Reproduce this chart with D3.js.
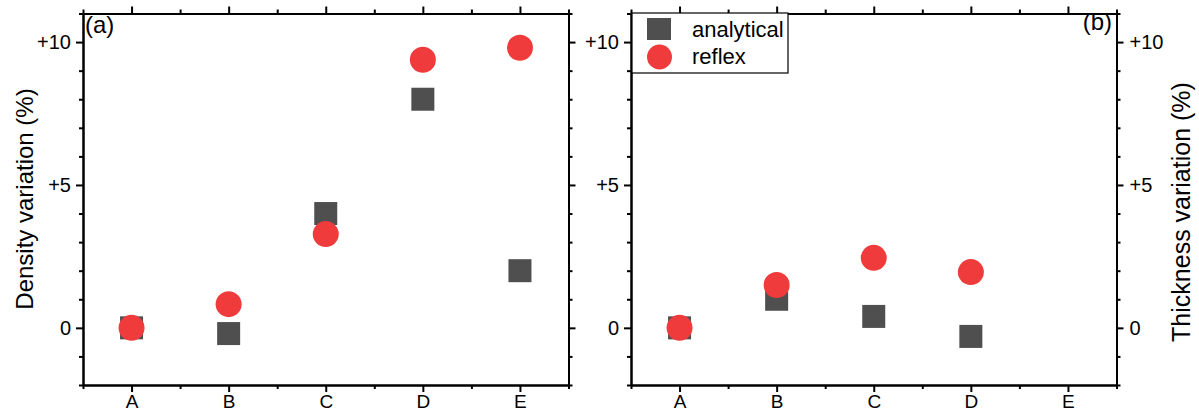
<!DOCTYPE html>
<html>
<head>
<meta charset="utf-8">
<script src="https://cdn.jsdelivr.net/npm/d3@7"></script>
<style>
  body { margin: 0; background: #fff; }
  svg { display: block; font-family: "Liberation Sans", Arial, sans-serif; }
  .domain { stroke: #000; stroke-width: 2; }
  .tick line { stroke: #000; stroke-width: 2; }
</style>
</head>
<body>
<div id="chart"></div>
<script>
var width = 1199;
var height = 412;

// data
var categories = ["A", "B", "C", "D", "E"];
var densityAnalytical = [0, -0.2, 4.0, 8.0, 2.0];
var densityReflex = [0, 0.83, 3.28, 9.38, 9.8];
var thicknessAnalytical = [0, 1.0, 0.4, -0.3];
var thicknessReflex = [0, 1.5, 2.45, 1.95];
var majorTicks = [0, 5, 10];
var seriesNames = ["analytical", "reflex"];

var sqColor = "#4f4f4f";
var dotColor = "#ef3b3b";

var svg = d3.select("#chart")
  .append("svg")
  .attr("width", width)
  .attr("height", height);

var yTop = 13.5, yBottom = 385;

var y = d3.scaleLinear()
  .domain([-2, 11])
  .range([yBottom, yTop]);

var minorY = d3.range(-2, 12).filter(function(v) { return majorTicks.indexOf(v) < 0; });
var minorX = [0.5, 1.5, 2.5, 3.5, 4.5, 5.5];

function fmt(v) { return v > 0 ? "+" + v : "" + v; }

// strip d3's default font attrs so the page font applies
function styleAxis(a, size) {
  a.attr("font-family", null).attr("font-size", null);
  a.selectAll("text").style("font-size", size + "px").attr("fill", "#000");
}

function panel(x0, x1, analytical, reflex, leftLabels, rightLabels) {
  var x = d3.scaleLinear()
    .domain([0.5, 5.5])
    .range([x0, x1]);

  var g = svg.append("g");

  // bottom + top axes
  g.append("g").attr("transform", "translate(0," + yBottom + ")")
    .call(d3.axisBottom(x).tickValues([1, 2, 3, 4, 5]).tickSize(7).tickSizeOuter(0).tickPadding(3)
      .tickFormat(function(d) { return categories[d - 1]; }))
    .call(styleAxis, 19);
  g.append("g").attr("transform", "translate(0," + yBottom + ")")
    .call(d3.axisBottom(x).tickValues(minorX).tickSize(4).tickSizeOuter(0).tickFormat(""));
  g.append("g").attr("transform", "translate(0," + yTop + ")")
    .call(d3.axisTop(x).tickValues([1, 2, 3, 4, 5]).tickSize(7).tickSizeOuter(0).tickFormat(""));
  g.append("g").attr("transform", "translate(0," + yTop + ")")
    .call(d3.axisTop(x).tickValues(minorX).tickSize(4).tickSizeOuter(0).tickFormat(""));

  // left + right axes
  g.append("g").attr("transform", "translate(" + x0 + ",0)")
    .call(d3.axisLeft(y).tickValues(majorTicks).tickSize(7).tickSizeOuter(0).tickPadding(5)
      .tickFormat(leftLabels ? fmt : ""))
    .call(styleAxis, 20);
  g.append("g").attr("transform", "translate(" + x0 + ",0)")
    .call(d3.axisLeft(y).tickValues(minorY).tickSize(4).tickSizeOuter(0).tickFormat(""));
  g.append("g").attr("transform", "translate(" + x1 + ",0)")
    .call(d3.axisRight(y).tickValues(majorTicks).tickSize(7).tickSizeOuter(0).tickPadding(6)
      .tickFormat(rightLabels ? fmt : ""))
    .call(styleAxis, 20);
  g.append("g").attr("transform", "translate(" + x1 + ",0)")
    .call(d3.axisRight(y).tickValues(minorY).tickSize(4).tickSizeOuter(0).tickFormat(""));

  var s = 23;
  g.selectAll(".sq")
    .data(analytical)
    .enter()
    .append("rect")
    .attr("x", function(d, i) { return x(i + 1) - s / 2; })
    .attr("y", function(d) { return y(d) - s / 2; })
    .attr("width", s)
    .attr("height", s)
    .style("fill", sqColor);

  g.selectAll(".dot")
    .data(reflex)
    .enter()
    .append("circle")
    .attr("cx", function(d, i) { return x(i + 1); })
    .attr("cy", function(d) { return y(d); })
    .attr("r", 13)
    .style("fill", dotColor);

  return g;
}

panel(83, 568.5, densityAnalytical, densityReflex, true, false);
panel(631, 1116.5, thicknessAnalytical, thicknessReflex, true, true);

// panel tags
svg.append("text").attr("x", 85).attr("y", 33).attr("font-size", 24).text("(a)");
svg.append("text").attr("x", 1112).attr("y", 30).attr("font-size", 24)
  .attr("text-anchor", "end").text("(b)");

// axis titles
svg.append("text")
  .attr("transform", "translate(24,199) rotate(-90)")
  .attr("text-anchor", "middle")
  .attr("dominant-baseline", "central")
  .attr("font-size", 24)
  .text("Density variation (%)");
svg.append("text")
  .attr("transform", "translate(1181,212) rotate(-90)")
  .attr("text-anchor", "middle")
  .attr("dominant-baseline", "central")
  .attr("font-size", 25)
  .text("Thickness variation (%)");

// legend
var legend = svg.append("g").attr("transform", "translate(632,13)");
legend.append("rect")
  .attr("width", 156)
  .attr("height", 60)
  .style("fill", "#fff")
  .style("stroke", "#000")
  .style("stroke-width", 1.2);
legend.append("rect")
  .attr("x", 15).attr("y", 5).attr("width", 24).attr("height", 22)
  .style("fill", sqColor);
legend.append("circle")
  .attr("cx", 27.5).attr("cy", 44).attr("r", 12.5)
  .style("fill", dotColor);
legend.selectAll(".lbl")
  .data(seriesNames)
  .enter()
  .append("text")
  .attr("x", 60)
  .attr("y", function(d, i) { return 24 + i * 27; })
  .attr("font-size", 22)
  .text(function(d) { return d; });
</script>
</body>
</html>
